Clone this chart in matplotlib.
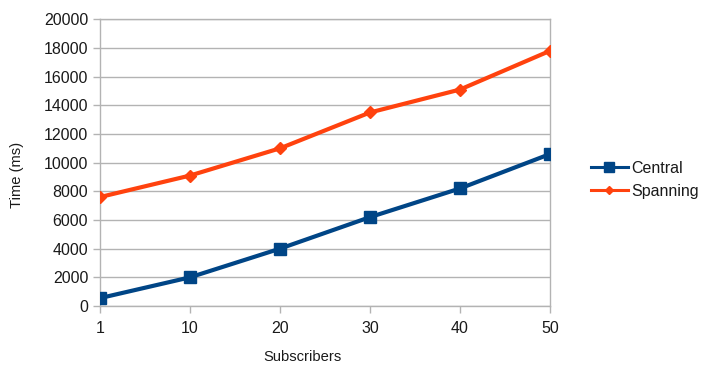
import matplotlib
matplotlib.use('Agg')
import matplotlib.pyplot as plt

# data
subscribers = ['1', '10', '20', '30', '40', '50']
central = [550, 2000, 4000, 6200, 8200, 10600]
spanning = [7600, 9100, 11000, 13500, 15100, 17800]
y_ticks = [0, 2000, 4000, 6000, 8000, 10000, 12000, 14000, 16000, 18000, 20000]

plt.rcParams['font.family'] = ['Liberation Sans', 'DejaVu Sans']

fig = plt.figure(figsize=(7.03, 3.65), dpi=100)
ax = fig.add_axes([100 / 703, 59 / 365, 450 / 703, 286.7 / 365])

x = list(range(len(subscribers)))
ax.plot(x, central, color='#004586', linewidth=3, marker='s', markersize=9,
        label='Central', zorder=3)
ax.plot(x, spanning, color='#ff420e', linewidth=3, marker='D', markersize=6,
        label='Spanning', zorder=3)

ax.set_xlim(0, len(subscribers) - 1)
ax.set_ylim(0, 20000)
ax.set_xticks(x)
ax.set_xticklabels(subscribers)
ax.set_yticks(y_ticks)
ax.set_yticklabels([str(v) for v in y_ticks])

ax.grid(True, axis='y', color='#b3b3b3', linewidth=1)
ax.set_axisbelow(True)
for spine in ax.spines.values():
    spine.set_color('#b3b3b3')
    spine.set_linewidth(1)
ax.tick_params(axis='both', colors='#b3b3b3', labelcolor='#1a1a1a',
               labelsize=11.5, length=5, width=1, direction='out')
ax.tick_params(axis='x', pad=6)

# axis titles placed in figure coordinates to match the reference
fig.text(302 / 703, 1 - 357 / 365, 'Subscribers', fontsize=10.6, color='#1a1a1a',
         ha='center', va='center')
fig.text(17 / 703, 1 - 175 / 365, 'Time (ms)', fontsize=10.6, color='#1a1a1a',
         ha='center', va='center', rotation=90)

leg = fig.legend(loc='center left', bbox_to_anchor=(591 / 703, 1 - 180 / 365),
                 frameon=False, fontsize=11.5, handlelength=2.3, handletextpad=0.25,
                 labelspacing=0.5, markerscale=0.75, labelcolor='#1a1a1a',
                 borderpad=0, borderaxespad=0)
for line in leg.get_lines():
    line.set_linewidth(2.2)

fig.savefig('out.png', dpi=100)
